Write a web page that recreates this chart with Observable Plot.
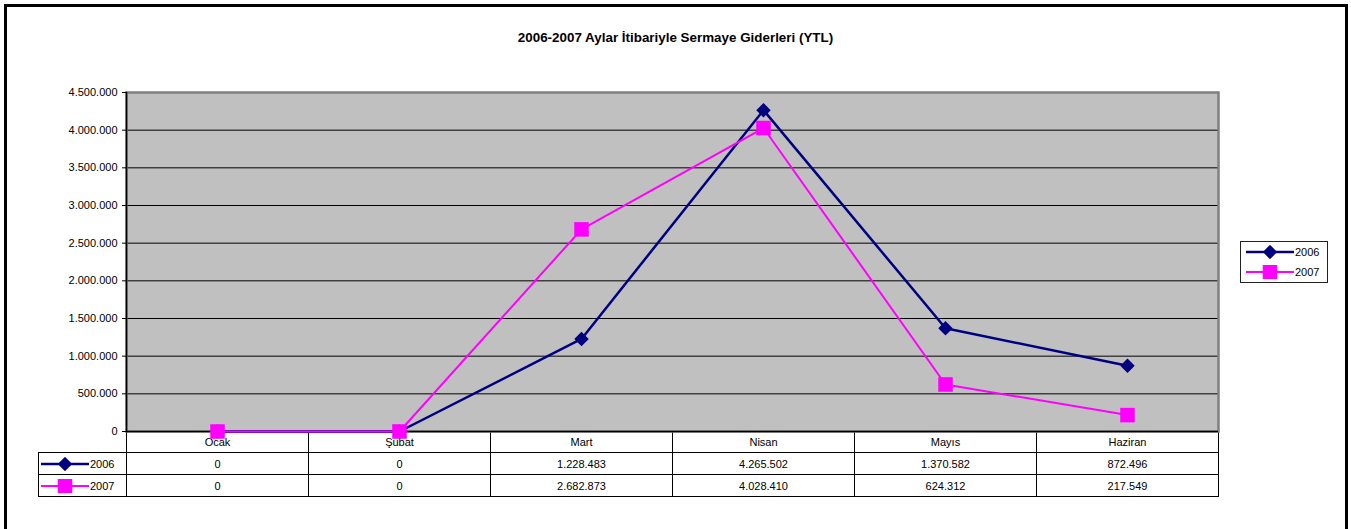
<!DOCTYPE html>
<html><head><meta charset="utf-8">
<script src="https://cdn.jsdelivr.net/npm/d3@7"></script>
<script src="https://cdn.jsdelivr.net/npm/@observablehq/plot@0.6"></script>
<style>
body{margin:0;background:#fff;}
#wrap{position:relative;width:1351px;height:529px;overflow:hidden;font-family:"Liberation Sans",Arial,sans-serif;color:#000;}
#frame{position:absolute;left:4px;top:4px;width:1344px;height:600px;box-sizing:border-box;border:3px solid #000;}
#title{position:absolute;left:0;top:30px;width:1351px;text-align:center;font-weight:bold;font-size:13.4px;line-height:16px;}
#chart{position:absolute;left:0;top:0;z-index:2;}
table.dt{position:absolute;z-index:1;border-collapse:collapse;table-layout:fixed;font-size:11px;}
table.dt td{border:1px solid #000;padding:0;text-align:center;height:21px;line-height:12px;white-space:nowrap;overflow:hidden;}
table.dt tr.hd td{border-top:none;}
table.dt tr.hd td.lg{border:none;}
table.dt td.lg{text-align:left;padding-left:1px;}
#legend{position:absolute;left:1240px;top:241px;width:88px;height:42px;box-sizing:border-box;border:1px solid #222;z-index:3;font-size:11px;}
.sw{display:flex;align-items:center;height:20px;}
.sw svg{display:block;}
</style></head><body><div id="wrap"><div id="frame"></div><div id="title"></div></div>
<script>
const titleText = "2006-2007 Aylar İtibariyle Sermaye Giderleri (YTL)";
const months = ["Ocak", "Şubat", "Mart", "Nisan", "Mayıs", "Haziran"];
const values2006 = [0, 0, 1228483, 4265502, 1370582, 872496];
const values2007 = [0, 0, 2682873, 4028410, 624312, 217549];
const seriesNames = ["2006", "2007"];
const seriesColors = ["#000080", "#FF00FF"];
const seriesSymbols = ["diamond2", "square"];
const yTicks = [0, 500000, 1000000, 1500000, 2000000, 2500000, 3000000, 3500000, 4000000, 4500000];

const seriesValues = [values2006, values2007];
const W = 1351, H = 529;
const mL = 126, mR = 133, mT = 92, mB = 98;

const fmt = d3.formatLocale({decimal: ",", thousands: ".", grouping: [3], currency: ["", ""]}).format(",d");

const rows = [];
seriesNames.forEach((s, k) => months.forEach((m, i) => rows.push({year: s, month: m, value: seriesValues[k][i]})));

const symbolSizes = {diamond2: 6.5, square: 8.2};
const strokeWidths = [2.5, 2];

const marks = [
  Plot.frame({fill: "#C0C0C0", stroke: "none"}),
  Plot.gridY(yTicks.slice(1, -1), {stroke: "#000", strokeOpacity: 1, strokeWidth: 1}),
  Plot.frame({fill: "none", stroke: "#808080", strokeWidth: 2.5}),
  Plot.frame({anchor: "left", stroke: "#000", strokeWidth: 1.5}),
  Plot.ruleY([0], {stroke: "#000", strokeWidth: 1.5}),
  Plot.axisY(yTicks, {tickFormat: fmt, tickSize: 4, tickPadding: 5, label: null, fontSize: 11, stroke: "#000"})
];
seriesNames.forEach((s, k) => {
  const d = rows.filter(r => r.year === s);
  marks.push(Plot.line(d, {x: "month", y: "value", stroke: seriesColors[k], strokeWidth: strokeWidths[k]}));
});
seriesNames.forEach((s, k) => {
  const d = rows.filter(r => r.year === s);
  marks.push(Plot.dot(d, {x: "month", y: "value", symbol: () => seriesSymbols[k], fill: seriesColors[k], stroke: "none", r: symbolSizes[seriesSymbols[k]]}));
});

const plot = Plot.plot({
  width: W, height: H,
  marginLeft: mL, marginRight: mR, marginTop: mT, marginBottom: mB,
  style: {background: "transparent", fontFamily: "'Liberation Sans', Arial, sans-serif", fontSize: "11px", color: "#000", overflow: "visible"},
  x: {type: "point", domain: months, padding: 0.5, axis: null},
  y: {domain: [0, 4500000], axis: null},
  symbol: {type: "identity"},
  marks
});
plot.id = "chart";
const wrap = document.getElementById("wrap");
wrap.appendChild(plot);
document.getElementById("title").textContent = titleText;

// swatch helper
function swatch(parent, k, w) {
  const svg = d3.select(parent).append("svg").attr("width", w).attr("height", 14);
  svg.append("line").attr("x1", 1).attr("x2", w - 1).attr("y1", 7).attr("y2", 7)
    .attr("stroke", seriesColors[k]).attr("stroke-width", strokeWidths[k]);
  const sym = seriesSymbols[k] === "square" ? d3.symbolSquare : d3.symbolDiamond2;
  const r = symbolSizes[seriesSymbols[k]];
  svg.append("path").attr("transform", `translate(${w / 2},7)`)
    .attr("d", d3.symbol(sym, Math.PI * r * r)()).attr("fill", seriesColors[k]);
}

// data table
const xs = plot.scale("x");
const step = xs.apply(months[1]) - xs.apply(months[0]);
const left0 = xs.apply(months[0]) - step / 2;
const tableLeft = 38;
const table = d3.select(wrap).append("table").attr("class", "dt")
  .style("left", tableLeft + "px").style("top", (H - mB) + "px")
  .style("width", (left0 - tableLeft + step * months.length) + "px");
const cg = table.append("colgroup");
cg.append("col").style("width", (left0 - tableLeft) + "px");
months.forEach(() => cg.append("col").style("width", step + "px"));
const hd = table.append("tr").attr("class", "hd");
hd.append("td").attr("class", "lg");
months.forEach(m => hd.append("td").text(m));
seriesNames.forEach((s, k) => {
  const tr = table.append("tr");
  const c = tr.append("td").attr("class", "lg").append("div").attr("class", "sw");
  swatch(c.node(), k, 50);
  c.append("span").text(s);
  seriesValues[k].forEach(v => tr.append("td").text(fmt(v)));
});

// legend
const lg = d3.select(wrap).append("div").attr("id", "legend");
seriesNames.forEach((s, k) => {
  const row = lg.append("div").attr("class", "sw").style("padding-left", "4px");
  swatch(row.node(), k, 50);
  row.append("span").text(s);
});
</script></body></html>
